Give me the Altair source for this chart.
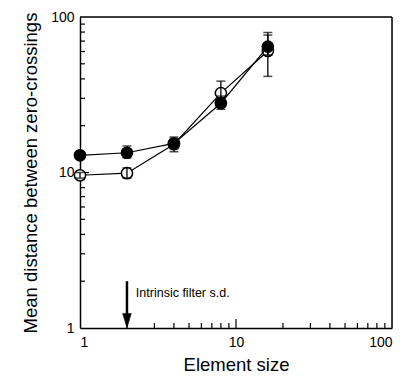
import altair as alt
import pandas as pd

element_size = [1, 2, 4, 8, 16]
filled_y = [12.9, 13.4, 15.4, 27.9, 64.5]
filled_lo = [12.4, 12.4, 13.6, 25.5, 57.0]
filled_hi = [13.4, 14.8, 16.9, 31.0, 79.5]
open_y = [9.6, 9.9, 15.2, 32.4, 60.5]
open_lo = [9.2, 9.2, 14.2, 28.5, 41.5]
open_hi = [10.0, 10.7, 16.2, 38.7, 76.5]
tick_labels = [1, 10, 100]
minor_ticks = [2, 3, 4, 5, 6, 7, 8, 9, 20, 30, 40, 50, 60, 70, 80, 90]
major_ticks = [10]
arrow_x = 2
arrow_top = 2.0
arrow_head_y = 1.115
annot_text = "Intrinsic filter s.d."
annot_x = 2.28
annot_y = 1.68

FONT = "Liberation Sans"
W, H = 312, 311

xs = alt.Scale(type="log", domain=[1, 100], nice=False)
ys = alt.Scale(type="log", domain=[1, 100], nice=False)

xaxis = alt.Axis(values=tick_labels, format="d", ticks=False, domain=True, domainColor="black",
                 domainWidth=1.5, grid=False,
                 labelFont=FONT, labelFontSize=14, labelColor="black", labelPadding=7,
                 titleFont=FONT, titleFontSize=18.5, titleFontWeight="normal",
                 titleColor="black", titlePadding=6)
yaxis = alt.Axis(values=tick_labels, format="d", ticks=False, domain=True, domainColor="black",
                 domainWidth=1.5, grid=False,
                 labelFont=FONT, labelFontSize=14, labelColor="black", labelPadding=6,
                 titleFont=FONT, titleFontSize=18.5, titleFontWeight="normal",
                 titleColor="black", titlePadding=10)
XT = "Element size"
YT = "Mean distance between zero-crossings"

filled = pd.DataFrame({"x": element_size, "y": filled_y, "lo": filled_lo, "hi": filled_hi})
opn = pd.DataFrame({"x": element_size, "y": open_y, "lo": open_lo, "hi": open_hi})

def X(field="x"):
    return alt.X(f"{field}:Q", scale=xs, axis=xaxis, title=XT)

def Y(field="y"):
    return alt.Y(f"{field}:Q", scale=ys, axis=yaxis, title=YT)

minor_df = pd.DataFrame({"v": minor_ticks})
major_df = pd.DataFrame({"v": major_ticks})
xminor = alt.Chart(minor_df).mark_rule(color="black", strokeWidth=1.2).encode(
    x=X("v"), y=alt.value(H), y2=alt.value(H - 5))
xmajor = alt.Chart(major_df).mark_rule(color="black", strokeWidth=1.2).encode(
    x=X("v"), y=alt.value(H), y2=alt.value(H - 9))
yminor = alt.Chart(minor_df).mark_rule(color="black", strokeWidth=1.2).encode(
    y=Y("v"), x=alt.value(0), x2=alt.value(5))
ymajor = alt.Chart(major_df).mark_rule(color="black", strokeWidth=1.2).encode(
    y=Y("v"), x=alt.value(0), x2=alt.value(9))

# top and right frame lines
frame_top = alt.Chart(major_df).mark_rule(color="black", strokeWidth=1.5).encode(
    x=alt.value(0), x2=alt.value(W), y=alt.value(0))
frame_right = alt.Chart(major_df).mark_rule(color="black", strokeWidth=1.5).encode(
    x=alt.value(W), y=alt.value(0), y2=alt.value(H))

def series(df, fill, bars_on_top):
    line = alt.Chart(df).mark_line(color="black", strokeWidth=1.2).encode(x=X(), y=Y())
    err = alt.Chart(df).mark_rule(color="black", strokeWidth=1.3).encode(x=X(), y=Y("lo"), y2="hi")
    cap_lo = alt.Chart(df).mark_tick(color="black", orient="horizontal", size=9, thickness=1.5).encode(x=X(), y=Y("lo"))
    cap_hi = alt.Chart(df).mark_tick(color="black", orient="horizontal", size=9, thickness=1.5).encode(x=X(), y=Y("hi"))
    pts = alt.Chart(df).mark_point(filled=True, size=125, fill=fill, stroke="black",
                                   strokeWidth=1.5, opacity=1, shape="circle").encode(x=X(), y=Y())
    if bars_on_top:
        return [line, pts, err, cap_lo, cap_hi]
    return [line, err, cap_lo, cap_hi, pts]

arrow_df = pd.DataFrame({"x": [arrow_x], "y": [arrow_top], "y2": [arrow_head_y], "yh": [arrow_head_y]})
arrow_line = alt.Chart(arrow_df).mark_rule(color="black", strokeWidth=2.5).encode(
    x=X(), y=Y(), y2="y2")
arrow_head = alt.Chart(arrow_df).mark_point(
    shape="M-0.6,-1L0.6,-1L0,1Z", filled=True, fill="black", stroke="black",
    strokeWidth=0.5, size=210, opacity=1).encode(x=X(), y=Y("yh"))

annot_df = pd.DataFrame({"x": [annot_x], "y": [annot_y], "t": [annot_text]})
annot = alt.Chart(annot_df).mark_text(align="left", baseline="middle", font=FONT,
                                      fontSize=12.5, color="black").encode(
    x=X(), y=Y(), text="t:N")

layers = ([xminor, xmajor, yminor, ymajor, frame_top, frame_right]
          + series(opn, "white", True) + series(filled, "black", False)
          + [arrow_line, arrow_head, annot])

chart = alt.layer(*layers).properties(
    width=W, height=H,
    padding={"left": 72, "top": 9, "right": 16, "bottom": 48},
    autosize=alt.AutoSizeParams(type="none"),
).configure_view(stroke=None).configure(background="white")

chart.save("out.html", embed_options={"renderer": "svg", "actions": False})
